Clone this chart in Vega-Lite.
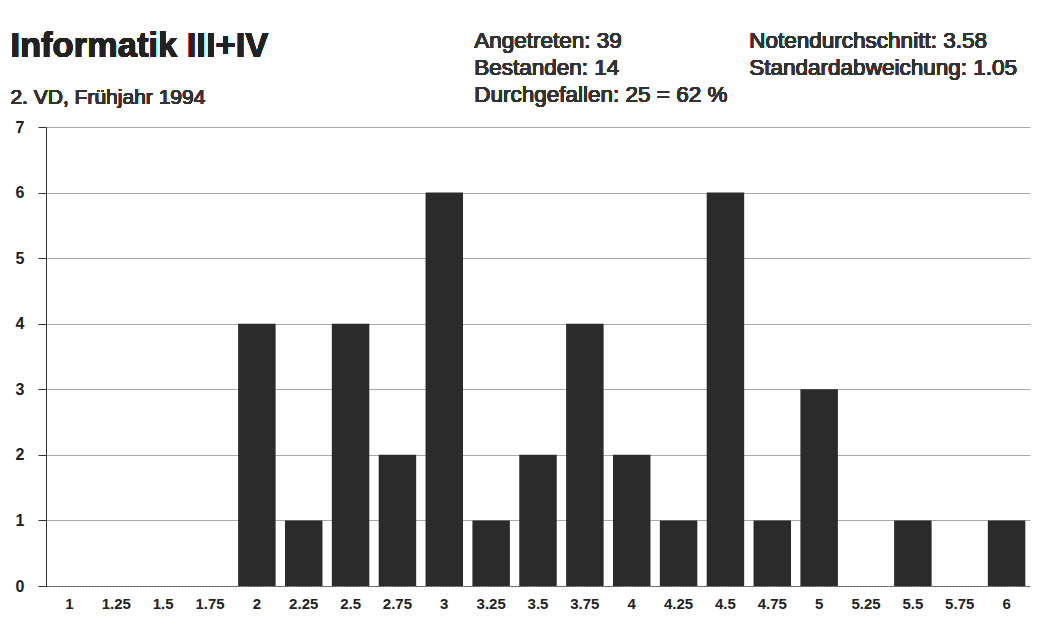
{
  "$schema": "https://vega.github.io/schema/vega-lite/v6.json",
  "width": 984,
  "height": 459,
  "autosize": "none",
  "padding": {"left": 46, "top": 127, "right": 26, "bottom": 43},
  "background": "white",
  "config": {
    "view": {"stroke": null},
    "font": "Liberation Sans"
  },
  "data": {
    "values": [
      {"note": "1", "count": 0},
      {"note": "1.25", "count": 0},
      {"note": "1.5", "count": 0},
      {"note": "1.75", "count": 0},
      {"note": "2", "count": 4},
      {"note": "2.25", "count": 1},
      {"note": "2.5", "count": 4},
      {"note": "2.75", "count": 2},
      {"note": "3", "count": 6},
      {"note": "3.25", "count": 1},
      {"note": "3.5", "count": 2},
      {"note": "3.75", "count": 4},
      {"note": "4", "count": 2},
      {"note": "4.25", "count": 1},
      {"note": "4.5", "count": 6},
      {"note": "4.75", "count": 1},
      {"note": "5", "count": 3},
      {"note": "5.25", "count": 0},
      {"note": "5.5", "count": 1},
      {"note": "5.75", "count": 0},
      {"note": "6", "count": 1}
    ]
  },
  "layer": [
    {
      "mark": {"type": "bar", "color": "#2b2b2b"},
      "encoding": {
        "x": {
          "field": "note",
          "type": "ordinal",
          "sort": null,
          "scale": {"paddingInner": 0.2, "paddingOuter": 0.1},
          "axis": {
            "title": null,
            "labelAngle": 0,
            "ticks": false,
            "labelFontSize": 15,
            "labelFontWeight": "bold",
            "labelColor": "#222",
            "labelPadding": 10,
            "domainColor": "#555",
            "domainDash": [2, 1]
          }
        },
        "y": {
          "field": "count",
          "type": "quantitative",
          "scale": {"domain": [0, 7], "nice": false},
          "axis": {
            "title": null,
            "values": [0, 1, 2, 3, 4, 5, 6, 7],
            "format": "d",
            "labelFontSize": 16,
            "labelFontWeight": "bold",
            "labelColor": "#222",
            "labelPadding": 14,
            "tickSize": 8,
            "tickColor": "#333",
            "domainColor": "#333",
            "gridColor": "#a8a8a8",
            "gridWidth": 1
          }
        }
      }
    },
    {
      "mark": {
        "type": "text",
        "align": "left",
        "baseline": "alphabetic",
        "font": "Liberation Sans",
        "fontSize": 34.5,
        "fontWeight": "bold",
        "color": "#222",
        "dx": -59,
        "clip": false,
        "text": "Informatik III+IV"
      },
      "encoding": {
        "x": {"datum": "1"},
        "y": {"datum": 8.07}
      }
    },
    {
      "mark": {
        "type": "text",
        "align": "left",
        "baseline": "alphabetic",
        "font": "Liberation Sans",
        "fontSize": 21,
        "fontWeight": 400,
        "color": "#333",
        "dx": -59,
        "clip": false,
        "text": "2. VD, Frühjahr 1994"
      },
      "encoding": {
        "x": {"datum": "1"},
        "y": {"datum": 7.35}
      }
    },
    {
      "mark": {
        "type": "text",
        "align": "left",
        "baseline": "alphabetic",
        "font": "Liberation Sans",
        "fontSize": 22.5,
        "fontWeight": 400,
        "lineHeight": 27,
        "color": "#333",
        "dx": -17,
        "clip": false,
        "text": ["Angetreten: 39", "Bestanden: 14", "Durchgefallen: 25 = 62 %"]
      },
      "encoding": {
        "x": {"datum": "3.25"},
        "y": {"datum": 8.2}
      }
    },
    {
      "mark": {
        "type": "text",
        "align": "left",
        "baseline": "alphabetic",
        "font": "Liberation Sans",
        "fontSize": 22.5,
        "fontWeight": 400,
        "lineHeight": 27,
        "color": "#333",
        "dx": -23,
        "clip": false,
        "text": ["Notendurchschnitt: 3.58", "Standardabweichung: 1.05"]
      },
      "encoding": {
        "x": {"datum": "4.75"},
        "y": {"datum": 8.2}
      }
    }
  ]
}
